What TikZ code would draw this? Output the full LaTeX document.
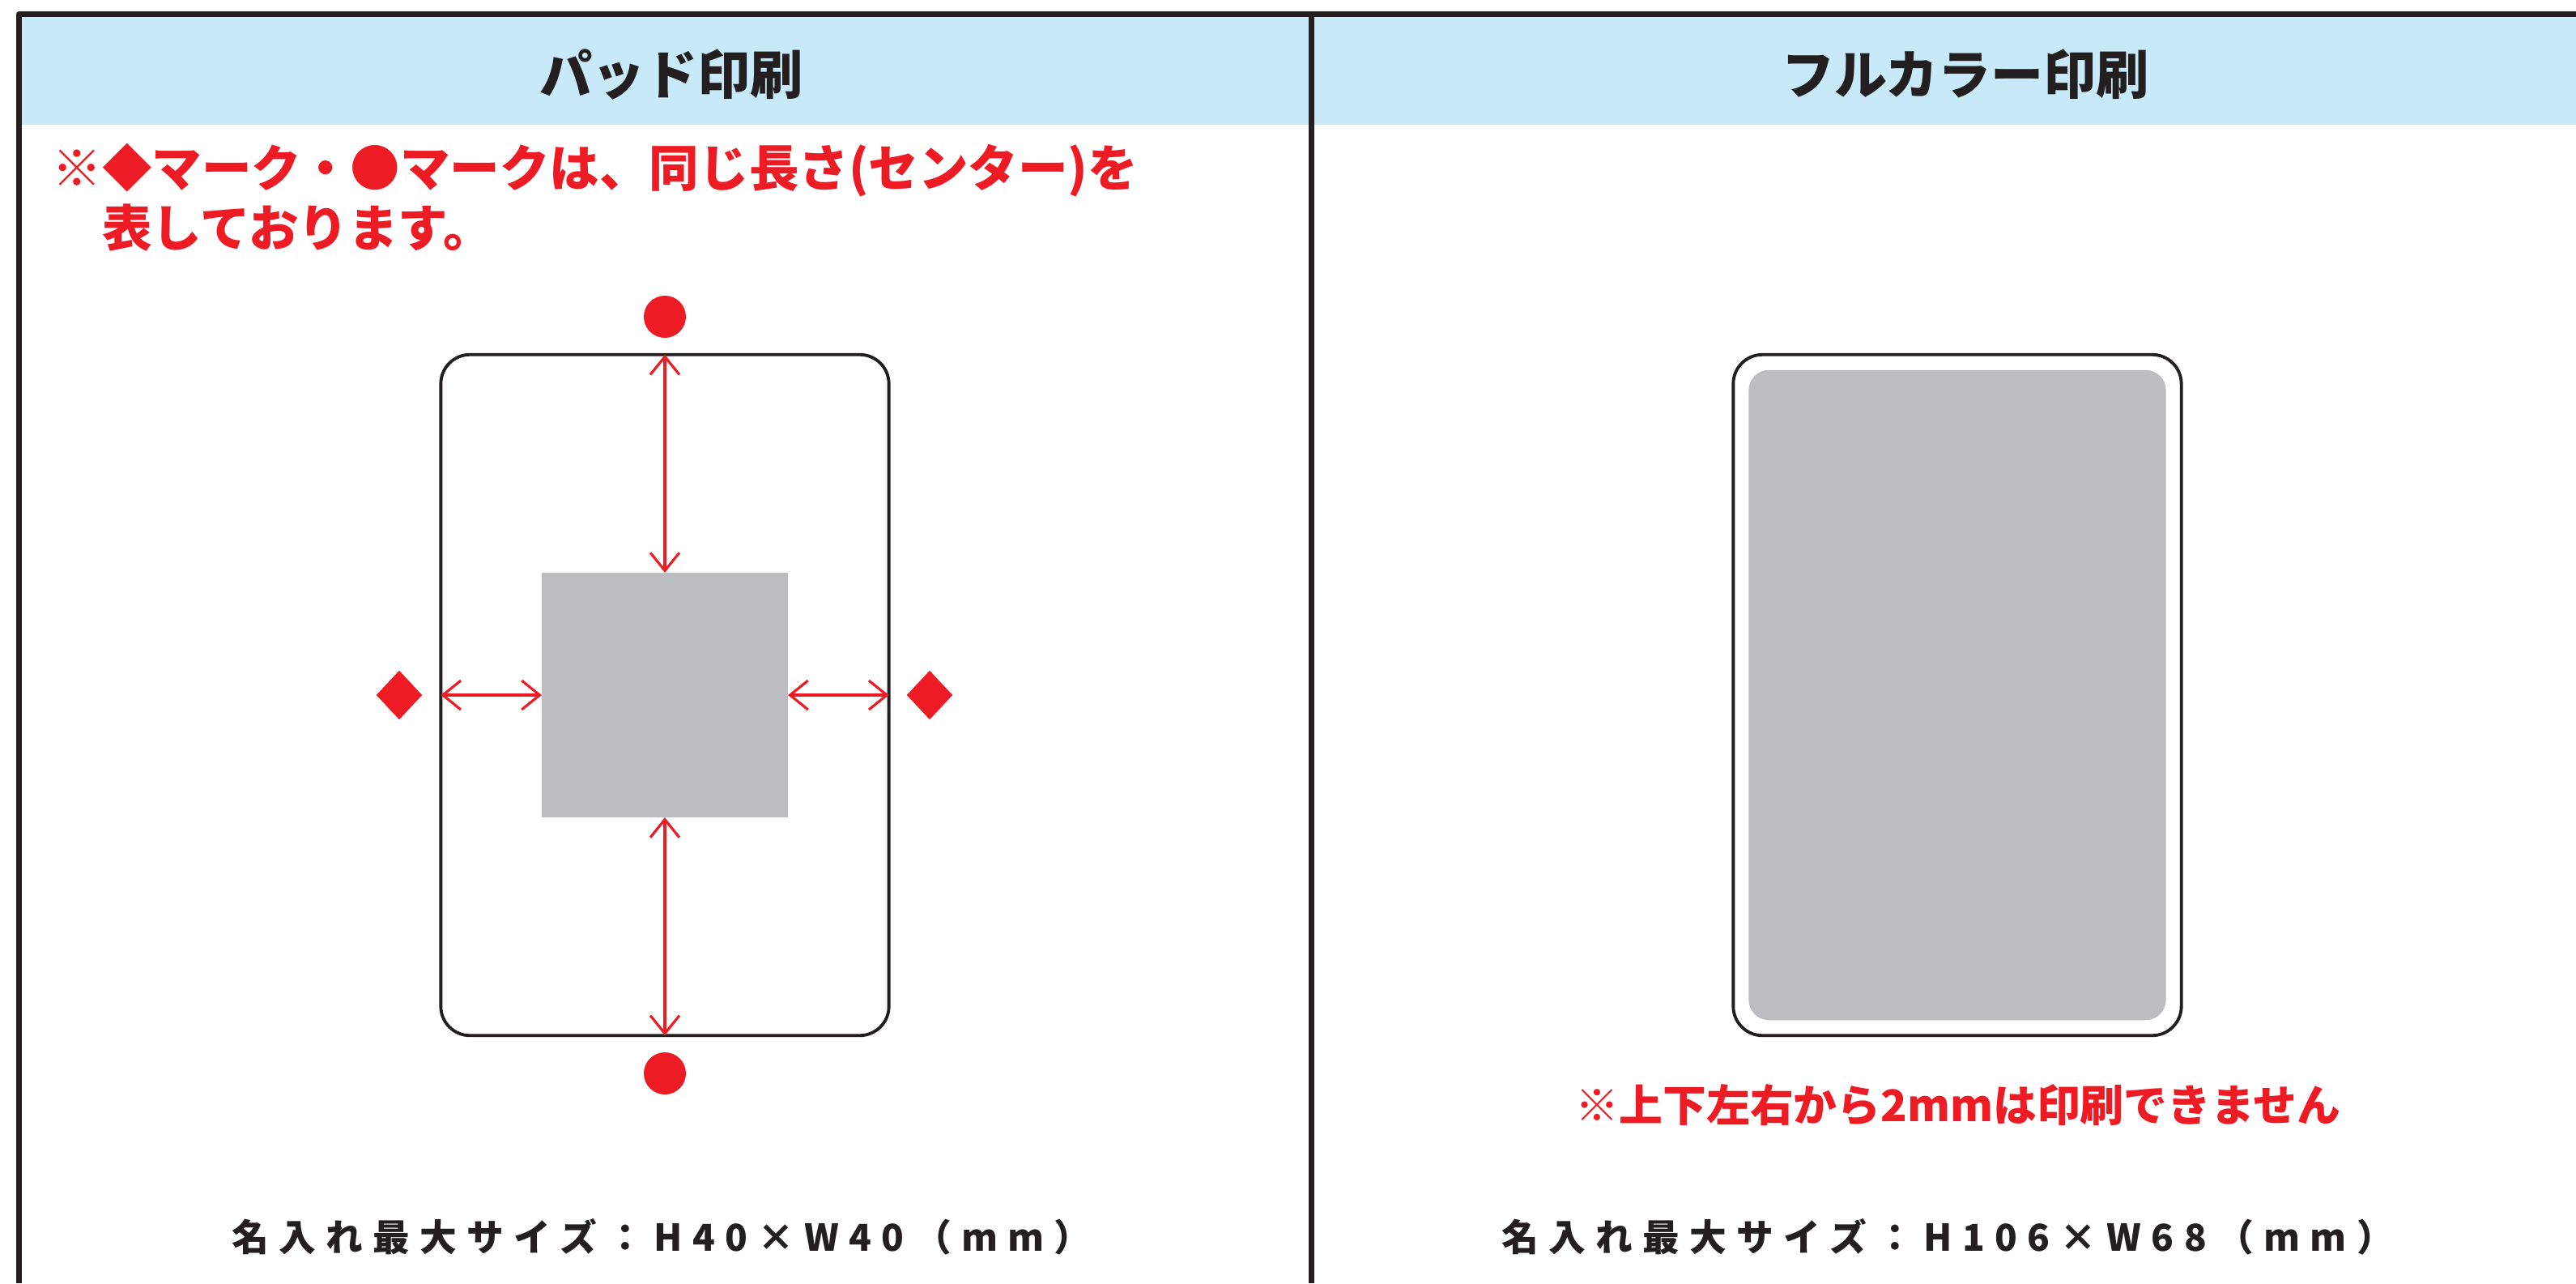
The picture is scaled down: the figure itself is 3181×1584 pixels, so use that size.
\documentclass[tikz,border=0pt]{standalone}
\usepackage{fontspec}
\setmainfont{Noto Sans CJK JP}
\newfontfamily\jpwide{Noto Sans CJK JP}[LetterSpace=27]
\usepackage{tikz}
\usetikzlibrary{shapes.geometric, arrows.meta}
\definecolor{headblue}{RGB}{199,233,248}
\definecolor{markred}{RGB}{237,28,36}
\definecolor{inkblack}{RGB}{35,31,32}
\definecolor{areagray}{RGB}{188,189,192}
\tikzstyle{frame} = [draw=inkblack, line width=2pt, line join=round]
\tikzstyle{card} = [rectangle, rounded corners=0.36cm, minimum width=5.53cm, minimum height=8.40cm, draw=inkblack, line width=1.1pt, outer sep=0pt]
\tikzstyle{printarea} = [rectangle, fill=areagray, minimum width=3.04cm, minimum height=3.02cm, outer sep=0pt]
\tikzstyle{fullarea} = [rectangle, rounded corners=0.25cm, fill=areagray, minimum width=5.15cm, minimum height=8.02cm]
\tikzstyle{dot} = [circle, fill=markred, minimum size=0.52cm, inner sep=0pt]
\tikzstyle{gem} = [diamond, fill=markred, minimum width=0.57cm, minimum height=0.61cm, inner sep=0pt]
\tikzstyle{dimarrow} = [draw=markred, line width=0.9pt, <->, >={Straight Barb[length=6.3pt,width=10.2pt]}]
\tikzstyle{title} = [text=inkblack, inner sep=0pt, font=\fontsize{18.5}{20}\selectfont\bfseries]
\tikzstyle{note} = [text=markred, inner sep=0pt, align=left, font=\fontsize{17.5}{21}\selectfont\bfseries]
\tikzstyle{smallnote} = [text=markred, inner sep=0pt, font=\fontsize{15.3}{17}\selectfont\bfseries]
\tikzstyle{sizetext} = [text=inkblack, inner sep=0pt, font=\jpwide\fontsize{13}{15}\selectfont\bfseries]

\begin{document}
\begin{tikzpicture}[x=0.01cm, y=-0.01cm]
	\useasboundingbox (0,0) rectangle (3181,1584);

	\fill [headblue] (23,21) rectangle (3181,154);
	\draw [frame] (23.5,1584) -- (23.5,17.5) -- (3181,17.5);
	\draw [frame] (1619,17.5) -- (1619,1584);

	\node (padtitle) [title] at (829,92) {パッド印刷};
	\node (fulltitle) [title] at (2427,92) {フルカラー印刷};

	\node (padnote) [note, anchor=base west] at (64,304) {※◆マーク・●マークは、同じ長さ(センター)を\\\phantom{※}表しております。};

	\node (padcard) [card] at (821,858) {};
	\node (padarea) [printarea] at (821,858) {};
	\node (dottop) [dot] at (821,391) {};
	\node (dotbottom) [dot] at (821,1325) {};
	\node (gemleft) [gem] at (493,858) {};
	\node (gemright) [gem] at (1148,858) {};

	\draw [dimarrow] (padcard.north) -- (padarea.north);
	\draw [dimarrow] (padarea.south) -- (padcard.south);
	\draw [dimarrow] (padcard.west) -- (padarea.west);
	\draw [dimarrow] (padarea.east) -- (padcard.east);

	\node (fullcard) [card] at (2417,858) {};
	\node (fullarea) [fullarea] at (2417,858) {};
	\node (fullnote) [smallnote] at (2418,1364) {※上下左右から2mmは印刷できません};

	\node (padsize) [sizetext] at (817,1527) {名入れ最大サイズ：H40×W40（mm）};
	\node (fullsize) [sizetext] at (2405,1527) {名入れ最大サイズ：H106×W68（mm）};
\end{tikzpicture}
\end{document}
